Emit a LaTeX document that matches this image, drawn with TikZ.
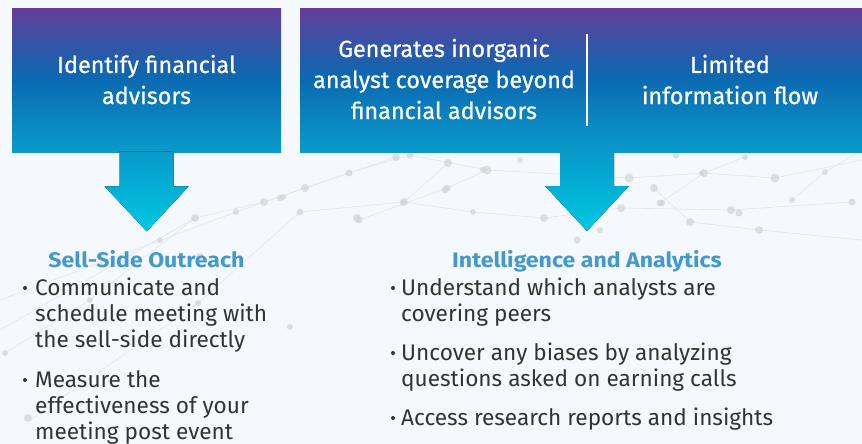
\documentclass[tikz,border=0pt]{standalone}
\usepackage{fontspec}
\setmainfont{Fira Sans}
\newfontfamily\boxfont{Fira Sans}[FakeBold=0.6]
\newfontfamily\headfont{Fira Sans}[FakeStretch=1.1]
\usetikzlibrary{calc}
\definecolor{boxtop}{HTML}{623E9B}
\definecolor{boxmid}{HTML}{0B69B1}
\definecolor{boxbot}{HTML}{0A9BCB}
\definecolor{arrtop}{HTML}{0899CA}
\definecolor{arrbot}{HTML}{00C8E2}
\definecolor{headblue}{HTML}{4399CC}
\definecolor{bodygray}{HTML}{333333}
\definecolor{bgcol}{HTML}{F5F8FC}
\definecolor{dotcol}{HTML}{D3D3D8}
\definecolor{netline}{HTML}{E2E6EC}
\pgfdeclareverticalshading{boxshade}{100bp}{color(0bp)=(boxbot); color(25bp)=(boxbot); color(51bp)=(boxmid); color(75bp)=(boxtop); color(100bp)=(boxtop)}
\begin{document}
\begin{tikzpicture}[x=1pt,y=-1pt,
  box/.style={rectangle, shading=boxshade, draw=none, inner sep=0, anchor=north west},
  boxtxt/.style={text=white, font=\boxfont\fontsize{23.4}{31}\selectfont, inner sep=0, anchor=base},
  head/.style={text=headblue, font=\headfont\bfseries\fontsize{21}{24}\selectfont, inner sep=0, anchor=base},
  bul/.style={text=bodygray, font=\fontsize{22.6}{26}\selectfont, inner sep=0, anchor=base west},
  bdot/.style={fill=bodygray},
  arrowfill/.style={top color=arrtop, bottom color=arrbot, draw=none},
  netdot/.style={fill=dotcol, opacity=0.7},
  net/.style={draw=netline, line width=0.6pt}]
% background
\fill[bgcol] (0,0) rectangle (862,444);
\useasboundingbox (0,0) rectangle (862,444);
% faint network
\draw[net] (0,330) -- (195,218) -- (264,202) -- (349,173) -- (410,155) -- (487,170) -- (629,178) -- (704,173) -- (775,178) -- (862,160);
\draw[net] (0,300) -- (236,212) -- (305,188) -- (396,157);
\draw[net] (30,420) -- (198,303) -- (300,212) -- (404,202) -- (473,212) -- (544,218) -- (621,208) -- (731,210) -- (852,202);
\draw[net] (359,220) -- (447,188) -- (487,170);
\draw[net] (403,203) -- (448,163);
\draw[net] (654,188) -- (690,222) -- (759,230) -- (862,240);
\draw[net] (660,203) -- (704,173) -- (745,157);
\draw[net] (792,200) -- (825,172) -- (862,150);
\draw[net] (5,353) -- (90,300) -- (195,218);
\foreach \px/\py/\r in {396/157/4, 410/155/3.5, 448/163/4, 487/170/4.5, 349/173/3.5, 305/188/4, 280/198/3, 264/202/4, 195/218/4, 236/212/3, 300/212/3.5, 404/202/4, 445/190/3.5, 473/212/3, 357/218/4, 629/178/4.5, 654/188/4, 704/173/4, 775/178/4.5, 621/208/4, 660/203/3.5, 731/210/4, 690/222/4, 759/230/4, 544/218/4, 577/240/3.5, 852/202/3.5, 792/200/3, 676/155/3.5, 745/157/3, 825/172/3, 483/170/3, 447/188/3.5, 403/203/3, 359/220/3.5, 702/173/3, 662/203/3, 739/213/3.5, 200/257/4, 198/303/3, 5/353/3, 28/418/4, 290/327/3, 283/197/3, 90/300/3, 160/240/3, 520/160/3, 560/196/3.5, 600/230/3}{
  \fill[netdot] (\px,\py) circle[radius=\r];
}
% boxes
\node[box, minimum width=269pt, minimum height=144pt] (box1) at (12,8) {};
\node[box, minimum width=562pt, minimum height=144pt] (box2) at (300,8) {};
% box texts
\node[boxtxt] (t1a) at (146.5,73) {Identify financial};
\node[boxtxt] (t1b) at (146.5,104) {advisors};
\node[boxtxt] (t2a) at (444,57) {Generates inorganic};
\node[boxtxt] (t2b) at (444,88) {analyst coverage beyond};
\node[boxtxt] (t2c) at (444,119) {financial advisors};
\node[boxtxt] (t3a) at (730,73) {Limited};
\node[boxtxt] (t3b) at (730,104) {information flow};
% divider
\coordinate (d1) at (587,34);
\coordinate (d2) at (587,126);
\draw[white, line width=1.2pt] (d1) -- (d2);
% arrows
\coordinate (a1) at ($(box1.south)+(0,-1)$);
\coordinate (a2) at (587,151);
\foreach \a in {a1,a2}{
  \fill[arrowfill] ($(\a)+(-27,0)$) -- ($(\a)+(-27,35)$) -- ($(\a)+(-42,35)$) -- ($(\a)+(0,80)$) -- ($(\a)+(42,35)$) -- ($(\a)+(27,35)$) -- ($(\a)+(27,0)$) -- cycle;
}
% headers
\node[head] (h1) at (146.5,267) {Sell-Side Outreach};
\node[head] (h2) at (587,267) {Intelligence and Analytics};
% left bullets
\fill[bdot] (25,288) circle[radius=2];
\node[bul] (l1a) at (35,295) {Communicate and};
\node[bul] (l1b) at (35,321) {schedule meeting with};
\node[bul] (l1c) at (35,347) {the sell-side directly};
\fill[bdot] (25,380) circle[radius=2];
\node[bul] (l2a) at (35,387) {Measure the};
\node[bul] (l2b) at (35,413) {effectiveness of your};
\node[bul] (l2c) at (35,439) {meeting post event};
% right bullets
\fill[bdot] (393,288) circle[radius=2];
\node[bul] (r1a) at (401,295) {Understand which analysts are};
\node[bul] (r1b) at (401,321) {covering peers};
\fill[bdot] (393,353) circle[radius=2];
\node[bul] (r2a) at (401,360) {Uncover any biases by analyzing};
\node[bul] (r2b) at (401,386) {questions asked on earning calls};
\fill[bdot] (393,418) circle[radius=2];
\node[bul] (r3a) at (401,425) {Access research reports and insights};
\end{tikzpicture}
\end{document}
